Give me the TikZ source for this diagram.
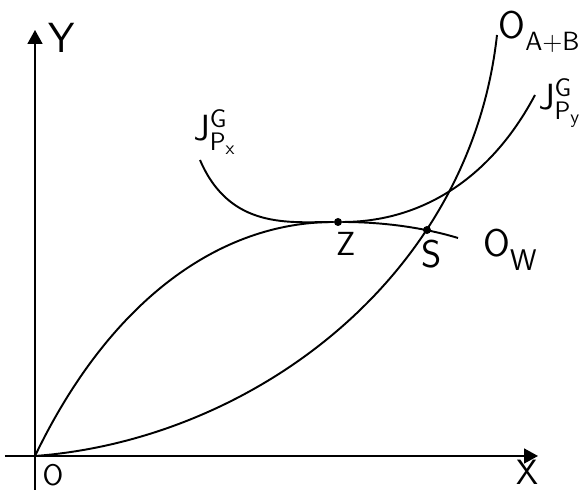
\documentclass[tikz,border=0pt]{standalone}
\usepackage{amsmath,amssymb}
\usetikzlibrary{arrows.meta,positioning,calc}

\begin{document}
\begin{tikzpicture}[
 x=0.02cm, y=-0.02cm,
 axis/.style={-{Triangle[length=2.8mm,width=3mm]}, line width=1pt},
 curve/.style={line width=1.1pt},
 dot/.style={circle, fill, inner sep=0pt, minimum size=1.6mm},
 lbl/.style={inner sep=0pt, font=\sffamily},
]
\useasboundingbox (0,0) rectangle (583,492);
% axes
\coordinate (xs) at (5,456);
\coordinate (xe) at (538,456);
\coordinate (ys) at (35,490);
\coordinate (ye) at (35,30);
\draw[axis] (xs) -- (xe);
\draw[axis] (ys) -- (ye);
\coordinate (origin) at (35,456);
\node[lbl, font=\sffamily\fontsize{17}{17}\selectfont] (olbl) at (53,475) {O};
\node[lbl, font=\sffamily\fontsize{20}{20}\selectfont] (xlbl) at (527,472) {X};
\node[lbl, font=\sffamily\fontsize{24}{24}\selectfont] (ylbl) at (62,38) {Y};

% special points
\node[dot] (Z) at (338,222) {};
\node[dot] (S) at (427,230) {};
\coordinate (owend) at (458,238);
\coordinate (abend) at (497,35);
\coordinate (jstart) at (200,160);
\coordinate (jend) at (535,95);

% curves
\draw[curve] (origin) .. controls (110,300) and (220,222) .. (Z)
 .. controls (385,222) and (425,228) .. (owend);
\draw[curve] (origin) .. controls (250,440) and (470,280) .. (abend);
\draw[curve] (jstart) .. controls (230,230) and (290,222) .. (Z)
 .. controls (420,222) and (490,180) .. (jend);

% labels
\node[lbl, font=\sffamily\fontsize{19}{19}\selectfont] (zlbl) at (346,244) {Z};
\node[lbl, font=\sffamily\fontsize{22}{22}\selectfont] (slbl) at (432,254) {S};
\node[lbl, font=\sffamily\fontsize{22}{22}\selectfont] (owlbl) at (510,250) {O\raisebox{-0.35em}{\fontsize{17}{17}\selectfont W}};
\node[lbl, font=\sffamily\fontsize{22}{22}\selectfont] (ablbl) at (539,32) {O\raisebox{-0.3em}{\fontsize{15}{15}\selectfont A+B}};
\node[lbl, font=\fontsize{22}{22}\selectfont] (jxlbl) at (215,132) {$\mathsf{J^{G}_{P_x}}$};
\node[lbl, font=\fontsize{22}{22}\selectfont] (jylbl) at (560,103) {$\mathsf{J^{G}_{P_y}}$};
\end{tikzpicture}
\end{document}
